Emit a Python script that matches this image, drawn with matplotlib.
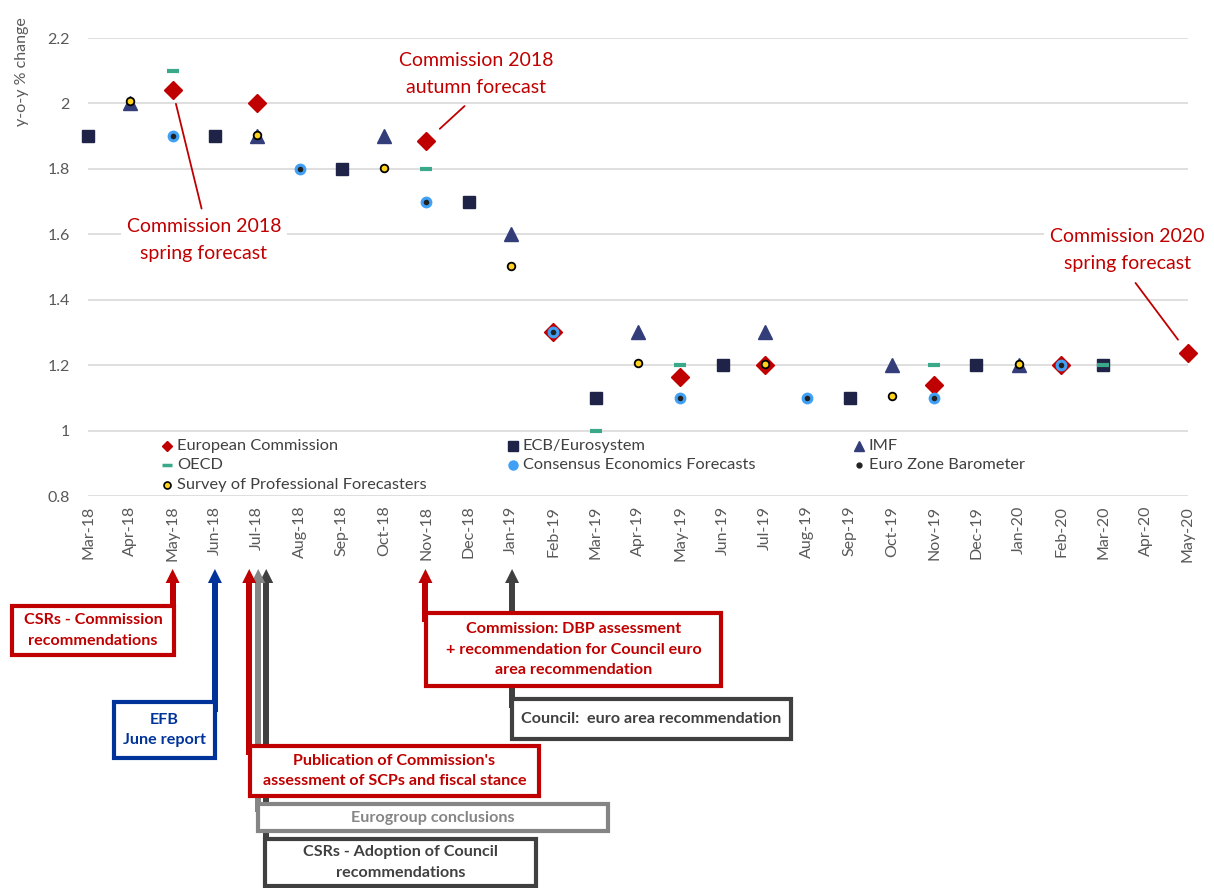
import matplotlib
matplotlib.use('Agg')
import matplotlib.pyplot as plt
from matplotlib.patches import Rectangle, Polygon

plt.rcParams['font.family'] = ['Lato', 'DejaVu Sans']

months = ['Mar-18', 'Apr-18', 'May-18', 'Jun-18', 'Jul-18', 'Aug-18', 'Sep-18', 'Oct-18', 'Nov-18',
          'Dec-18', 'Jan-19', 'Feb-19', 'Mar-19', 'Apr-19', 'May-19', 'Jun-19', 'Jul-19', 'Aug-19',
          'Sep-19', 'Oct-19', 'Nov-19', 'Dec-19', 'Jan-20', 'Feb-20', 'Mar-20', 'Apr-20', 'May-20']

ec_months = ['May-18', 'Jul-18', 'Nov-18', 'Feb-19', 'May-19', 'Jul-19', 'Nov-19', 'Feb-20', 'May-20']
ec_values = [2.04, 2.0, 1.885, 1.3, 1.163, 1.2, 1.14, 1.2, 1.237]

ecb_months = ['Mar-18', 'Jun-18', 'Sep-18', 'Dec-18', 'Mar-19', 'Jun-19', 'Sep-19', 'Dec-19', 'Mar-20']
ecb_values = [1.9, 1.9, 1.8, 1.7, 1.1, 1.2, 1.1, 1.2, 1.2]

imf_months = ['Apr-18', 'Jul-18', 'Oct-18', 'Jan-19', 'Apr-19', 'Jul-19', 'Oct-19', 'Jan-20']
imf_values = [2.0, 1.9, 1.9, 1.6, 1.3, 1.3, 1.2, 1.2]

oecd_months = ['May-18', 'Nov-18', 'Mar-19', 'May-19', 'Nov-19', 'Mar-20']
oecd_values = [2.1, 1.8, 1.0, 1.2, 1.2, 1.2]

cons_months = ['May-18', 'Aug-18', 'Nov-18', 'Feb-19', 'May-19', 'Aug-19', 'Nov-19', 'Feb-20']
cons_values = [1.9, 1.8, 1.7, 1.3, 1.1, 1.1, 1.1, 1.2]

ezb_months = ['May-18', 'Aug-18', 'Nov-18', 'Feb-19', 'May-19', 'Aug-19', 'Nov-19', 'Feb-20']
ezb_values = [1.9, 1.8, 1.7, 1.3, 1.1, 1.1, 1.1, 1.2]

spf_months = ['Apr-18', 'Jul-18', 'Oct-18', 'Jan-19', 'Apr-19', 'Jul-19', 'Oct-19', 'Jan-20']
spf_values = [2.006, 1.903, 1.803, 1.503, 1.206, 1.205, 1.105, 1.205]

y_ticks = [0.8, 1.0, 1.2, 1.4, 1.6, 1.8, 2.0, 2.2]
y_tick_labels = ['0.8', '1', '1.2', '1.4', '1.6', '1.8', '2', '2.2']

RED = '#c00000'
NAVY = '#1f2347'
IMF_C = '#333d7a'
TEAL = '#3aa98a'
LBLUE = '#3fa0f5'
BLUE = '#003399'
GRAY = '#858585'
DARK = '#404040'
TXT = '#595959'

W, H = 1214, 888
fig = plt.figure(figsize=(W / 100, H / 100), dpi=100)
ax = fig.add_axes([88 / W, 1 - 496 / H, 1100 / W, 458 / H])


def pos(ms):
    return [months.index(m) for m in ms]


ax.plot(pos(ec_months), ec_values, ls='none', marker='D', ms=9.5, color=RED, clip_on=False, zorder=3)
ax.plot(pos(ecb_months), ecb_values, ls='none', marker='s', ms=8, color=NAVY, clip_on=False, zorder=4)
ax.plot(pos(imf_months), imf_values, ls='none', marker='^', ms=9.5, color=IMF_C, clip_on=False, zorder=5)
ax.plot(pos(oecd_months), oecd_values, ls='none', marker='_', ms=9, mew=3, color=TEAL, clip_on=False, zorder=6)
ax.plot(pos(cons_months), cons_values, ls='none', marker='o', ms=8.5, color=LBLUE, mec='none', clip_on=False, zorder=7)
ax.plot(pos(ezb_months), ezb_values, ls='none', marker='o', ms=4, color='#222222', mec='none', clip_on=False, zorder=8)
ax.plot(pos(spf_months), spf_values, ls='none', marker='o', ms=5.5, mfc='#ffd21f', mec='black', mew=1.3,
        clip_on=False, zorder=9)

ax.set_xlim(0, len(months) - 1)
ax.set_ylim(0.8, 2.2)
ax.set_yticks(y_ticks)
ax.set_yticklabels(y_tick_labels)
ax.set_xticks(range(len(months)))
ax.set_xticklabels(months, rotation=90)
ax.tick_params(axis='y', length=0, pad=13, labelsize=11.5, labelcolor=TXT)
ax.tick_params(axis='x', length=0, pad=7, labelsize=11.5, labelcolor=TXT)
ax.grid(axis='y', color='#d9d9d9', linewidth=1.2)
for s in ax.spines.values():
    s.set_visible(False)

fig.text(22 / W, 1 - 72 / H, 'y-o-y % change', rotation=90, ha='center', va='center', fontsize=11.5, color=TXT)

bb = dict(boxstyle='square,pad=0.3', fc='white', ec='none')
ann = dict(ha='center', va='center', fontsize=14, color=RED, bbox=bb, zorder=10, annotation_clip=False,
           linespacing=1.65, textcoords='figure pixels')
ax.annotate('Commission 2018\nspring forecast', xy=(2, 2.04), xytext=(204, H - 240),
            arrowprops=dict(arrowstyle='-', color=RED, lw=1.3, relpos=(0.5, 1), shrinkA=3, shrinkB=10), **ann)
ax.annotate('Commission 2018\nautumn forecast', xy=(8, 1.885), xytext=(476, H - 74),
            arrowprops=dict(arrowstyle='-', color=RED, lw=1.3, relpos=(0.5, 0), shrinkA=5, shrinkB=13), **ann)
ax.annotate('Commission 2020\nspring forecast', xy=(26, 1.237), xytext=(1127, H - 250),
            arrowprops=dict(arrowstyle='-', color=RED, lw=1.3, relpos=(0.5, 0), shrinkA=5, shrinkB=12), **ann)

# overlay in pixel coordinates for legend and the timeline boxes
ax2 = fig.add_axes([0, 0, 1, 1])
ax2.set_xlim(0, W)
ax2.set_ylim(H, 0)
ax2.axis('off')
ax2.patch.set_alpha(0)

legend_items = [
    ('European Commission', dict(marker='D', ms=5.5, color=RED), 167, 446),
    ('ECB/Eurosystem', dict(marker='s', ms=6.5, color=NAVY), 513, 446),
    ('IMF', dict(marker='^', ms=7.5, color=IMF_C), 859, 446),
    ('OECD', dict(marker='_', ms=7.5, mew=2.5, color=TEAL), 167, 465),
    ('Consensus Economics Forecasts', dict(marker='o', ms=7.5, color=LBLUE, mec='none'), 513, 465),
    ('Euro Zone Barometer', dict(marker='o', ms=3.5, color='#222222'), 859, 465),
    ('Survey of Professional Forecasters', dict(marker='o', ms=5, mfc='#ffd21f', mec='black', mew=1.2), 167, 485),
]
for label, style, lx, ly in legend_items:
    ax2.plot([lx], [ly], ls='none', **style)
    ax2.text(lx + 10, ly, label, fontsize=11.8, color=DARK, va='center', ha='left')


def month_px(m):
    return ax.transData.transform((months.index(m), 1.0))[0]


def up_arrow(x, y_end, color, z):
    tip, hh, hw = 569, 14, 7
    ax2.add_patch(Rectangle((x - 3, tip + hh - 1), 6, y_end - (tip + hh - 1), fc=color, ec='none', zorder=z))
    ax2.add_patch(Polygon([(x, tip), (x - hw, tip + hh), (x + hw, tip + hh)], closed=True, fc=color, ec='none',
                          zorder=z))


def box(l, t, r, b, color, text, z=5):
    ax2.add_patch(Rectangle((l, t), r - l, b - t, fc='white', ec=color, lw=3, zorder=z))
    ax2.text((l + r) / 2, (t + b) / 2, text, color=color, ha='center', va='center', fontsize=11.6,
             fontweight='bold', linespacing=1.55, zorder=z + 0.1)


up_arrow(month_px('Jul-18') + 9, 848, DARK, 2.0)
up_arrow(month_px('Jul-18') + 1, 812, GRAY, 2.1)
up_arrow(month_px('Jul-18') - 8, 755, RED, 2.2)
up_arrow(month_px('May-18'), 615, RED, 2.2)
up_arrow(month_px('Jun-18'), 712, BLUE, 2.2)
up_arrow(month_px('Jan-19') + 1, 708, DARK, 2.0)
up_arrow(month_px('Nov-18') - 1, 622, RED, 2.2)

box(12, 606, 174, 655, RED, 'CSRs - Commission\nrecommendations')
box(114, 702, 215, 758, BLUE, 'EFB\nJune report')
box(250, 746, 539, 796, RED, "Publication of Commission's\nassessment of SCPs and fiscal stance")
box(258, 804, 608, 831, GRAY, 'Eurogroup conclusions')
box(265, 839, 536, 886, DARK, 'CSRs - Adoption of Council\nrecommendations')
box(426, 613, 721, 686, RED, 'Commission: DBP assessment\n+ recommendation for Council euro\narea recommendation')
box(512, 699, 791, 739, DARK, 'Council:  euro area recommendation')

fig.savefig('out.png', dpi=100)
